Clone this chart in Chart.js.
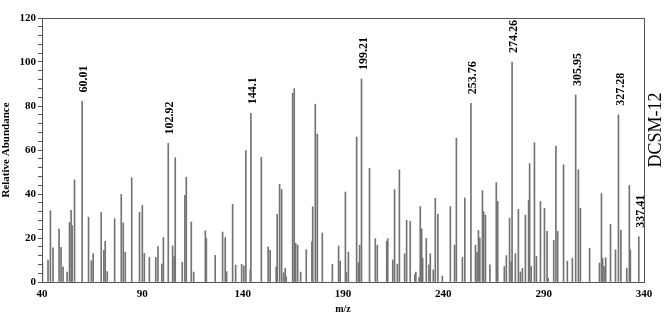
<!DOCTYPE html>
<html>
<head>
<meta charset="utf-8">
<script src="https://cdn.jsdelivr.net/npm/chart.js@4.4.1/dist/chart.umd.min.js"></script>
<style>
    html, body { margin: 0; padding: 0; background: #fff; }
    #wrap { width: 669px; height: 322px; }
</style>
</head>
<body>
<div id="wrap"><canvas id="spectrum"></canvas></div>
<script>
/* ============================ Data  ============================ */
const mz = [
    40.2, 43.0, 44.2, 45.5, 48.5, 49.5, 50.5, 52.5, 53.7, 54.5, 55.0, 56.2, 60.01,
    63.2, 64.6, 65.5, 69.5, 70.8, 71.5, 72.5, 76.2, 79.5, 80.5, 81.5, 84.7, 88.6,
    90.0, 91.0, 93.5, 96.7, 97.8, 99.7, 100.5, 102.92, 105.1, 105.9, 106.4, 109.9,
    111.2, 111.9, 114.4, 115.6, 121.4, 121.9, 126.3, 130.0, 131.3, 132.0, 135.0,
    136.5, 139.5, 140.6, 141.6, 143.8, 144.1, 149.3, 152.7, 153.7, 156.7, 157.2,
    158.4, 159.4, 160.4, 161.2, 161.7, 164.9, 165.7, 166.4, 167.4, 168.9, 171.7,
    174.5, 174.9, 176.2, 177.2, 179.7, 184.7, 187.8, 188.6, 191.2, 191.7, 192.7,
    196.8, 197.7, 198.3, 199.21, 203.2, 206.1, 207.1, 211.8, 212.3, 214.8, 215.7,
    217.1, 218.1, 220.7, 221.7, 223.5, 225.8, 226.3, 227.9, 228.5, 229.2, 229.7,
    231.5, 232.8, 233.5, 235.0, 236.0, 237.3, 239.5, 243.5, 245.6, 246.5, 249.5,
    250.7, 253.76, 256.0, 256.8, 257.5, 258.2, 259.5, 260.1, 261.0, 263.2, 266.4,
    267.1, 270.4, 271.4, 273.0, 273.8, 274.26, 275.9, 277.4, 278.4, 279.4, 280.9,
    282.5, 283.0, 283.8, 285.4, 286.4, 288.4, 290.4, 291.7, 292.2, 295.0, 296.1,
    297.0, 299.9, 301.8, 304.3, 305.95, 307.3, 308.3, 312.9, 317.8, 318.8, 319.4,
    320.1, 320.9, 323.3, 325.8, 327.28, 328.5, 331.4, 332.7, 333.2, 337.41
];
const abundance = [
    8.5, 10, 32.4, 15.5, 24, 15.8, 6.9, 4.5, 27.1, 32.6, 25.6, 46.4, 82.1,
    29.5, 9.7, 12.9, 31.6, 14.4, 18.5, 4.7, 28.8, 39.8, 26.8, 13.6, 47.4, 31.6,
    34.8, 13, 11.2, 11.2, 16.1, 8.2, 20.2, 63, 16.4, 11.5, 56.5, 9,
    39.4, 47.6, 27.3, 4.5, 23.3, 19.8, 12.1, 22.7, 20.2, 4.7, 35.3,
    7.7, 8, 7.4, 59.7, 5.5, 76.7, 56.7, 16, 14.4, 6.7, 30.8,
    44.4, 42.1, 4.2, 6.2, 2.4, 85.8, 87.9, 17.6, 16.8, 4.5, 14.7,
    18.3, 34.2, 80.8, 67.2, 22.3, 8, 16.4, 9.5, 40.9, 4.5, 13.6,
    65.9, 8.8, 16.7, 92.3, 51.7, 19.7, 16.7, 18.5, 19.7, 10, 42,
    8.1, 51, 12.8, 28.1, 27.6, 3.4, 4.5, 2, 34.3, 24.2, 10.8,
    19.8, 7.8, 12.8, 5.5, 38, 30.9, 2.7, 34.3, 16.8, 65.4, 11.2,
    38.2, 81.2, 16.8, 13.6, 23.5, 20, 41.5, 31.9, 30.4, 7.8, 45.2,
    36.6, 7, 12, 29, 9.3, 100, 12.9, 33, 4.6, 6.2, 30.4,
    37.2, 53.8, 7, 63.3, 11.6, 36.6, 33.5, 23, 1.8, 19, 61.8,
    23, 53.3, 9.5, 10.8, 85, 51, 33.5, 15.3, 8.6, 40.2, 10.8,
    7, 11, 26.2, 14.6, 76, 23.6, 6.3, 43.9, 14.6, 20.6
];
const labeledPeaks = [60.01, 102.92, 144.1, 199.21, 253.76, 274.26, 305.95, 327.28, 337.41];
const yTicks = [0, 20, 40, 60, 80, 100, 120];
const xTicks = [40, 90, 140, 190, 240, 290, 340];
const sampleName = "DCSM-12";

const serif = '"Liberation Serif", "Times New Roman", serif';

/* ============================ Plugins  ============================ */
const frame = {
    id: "frame",
    afterDraw(chart) {
        const { ctx, chartArea: a } = chart;
        ctx.save();
        ctx.strokeStyle = "#555";
        ctx.lineWidth = 1;
        ctx.strokeRect(a.left + 0.5, a.top + 0.5, a.right - a.left, a.bottom - a.top);
        ctx.restore();
    },
};

const peakText = {
    id: "peakText",
    afterDatasetsDraw(chart) {
        const ctx = chart.ctx;
        const meta = chart.getDatasetMeta(0);
        ctx.save();
        ctx.fillStyle = "#000";
        ctx.font = "bold 12px " + serif;
        ctx.textAlign = "left";
        ctx.textBaseline = "middle";
        labeledPeaks.forEach((p) => {
            const i = mz.indexOf(p);
            if (i < 0) return;
            const el = meta.data[i];
            ctx.save();
            ctx.translate(el.x + 2, el.y - 9);
            ctx.rotate(-Math.PI / 2);
            ctx.fillText(String(p), 0, 0);
            ctx.restore();
        });

        // sample name on the right
        ctx.font = "18px " + serif;
        ctx.textAlign = "center";
        ctx.save();
        ctx.translate(656, 130);
        ctx.rotate(-Math.PI / 2);
        ctx.fillText(sampleName, 0, 0);
        ctx.restore();
        ctx.restore();
    },
};

/* ============================ Chart  ============================ */
const spectrum = new Chart(document.getElementById("spectrum"), {
    type: "bar",
    data: {
        datasets: [
            {
                label: sampleName,
                data: mz.map((m, i) => ({ x: m, y: abundance[i] })),
                backgroundColor: "#737373",
                barThickness: 1,
                maxBarThickness: 1,
                grouped: false,
            },
        ],
    },
    options: {
        responsive: true,
        maintainAspectRatio: false,
        animation: false,
        layout: { padding: { top: 18, right: 25, left: 0, bottom: 0 } },
        plugins: {
            legend: { display: false },
            tooltip: { enabled: false },
        },
        scales: {
            x: {
                type: "linear",
                min: 40,
                max: 340,
                offset: false,
                grid: { display: false, drawOnChartArea: false, tickLength: 4, tickColor: "#555" },
                border: { color: "#555" },
                ticks: {
                    stepSize: 10,
                    autoSkip: false,
                    maxRotation: 0,
                    padding: 2,
                    color: "#000",
                    font: { family: serif, size: 11, weight: "bold" },
                    callback: (v) => (xTicks.includes(v) ? v : ""),
                },
                title: {
                    display: true,
                    text: "m/z",
                    color: "#000",
                    font: { family: serif, size: 10, weight: "bold" },
                    padding: { top: 0, bottom: 7 },
                },
                afterFit(scale) {
                    scale.height = 40;
                },
            },
            y: {
                min: 0,
                max: 120,
                grid: { drawOnChartArea: false, tickLength: 4, tickColor: "#555" },
                border: { color: "#555" },
                ticks: {
                    stepSize: 4,
                    autoSkip: false,
                    padding: 2,
                    color: "#000",
                    font: { family: serif, size: 11, weight: "bold" },
                    callback: (v) => (yTicks.includes(v) ? v : ""),
                },
                title: {
                    display: true,
                    text: "Relative Abundance",
                    color: "#000",
                    font: { family: serif, size: 11, weight: "bold" },
                    padding: { top: 0, bottom: 0 },
                },
                afterFit(scale) {
                    scale.width = 42;
                },
            },
        },
    },
    plugins: [frame, peakText],
});
</script>
</body>
</html>
